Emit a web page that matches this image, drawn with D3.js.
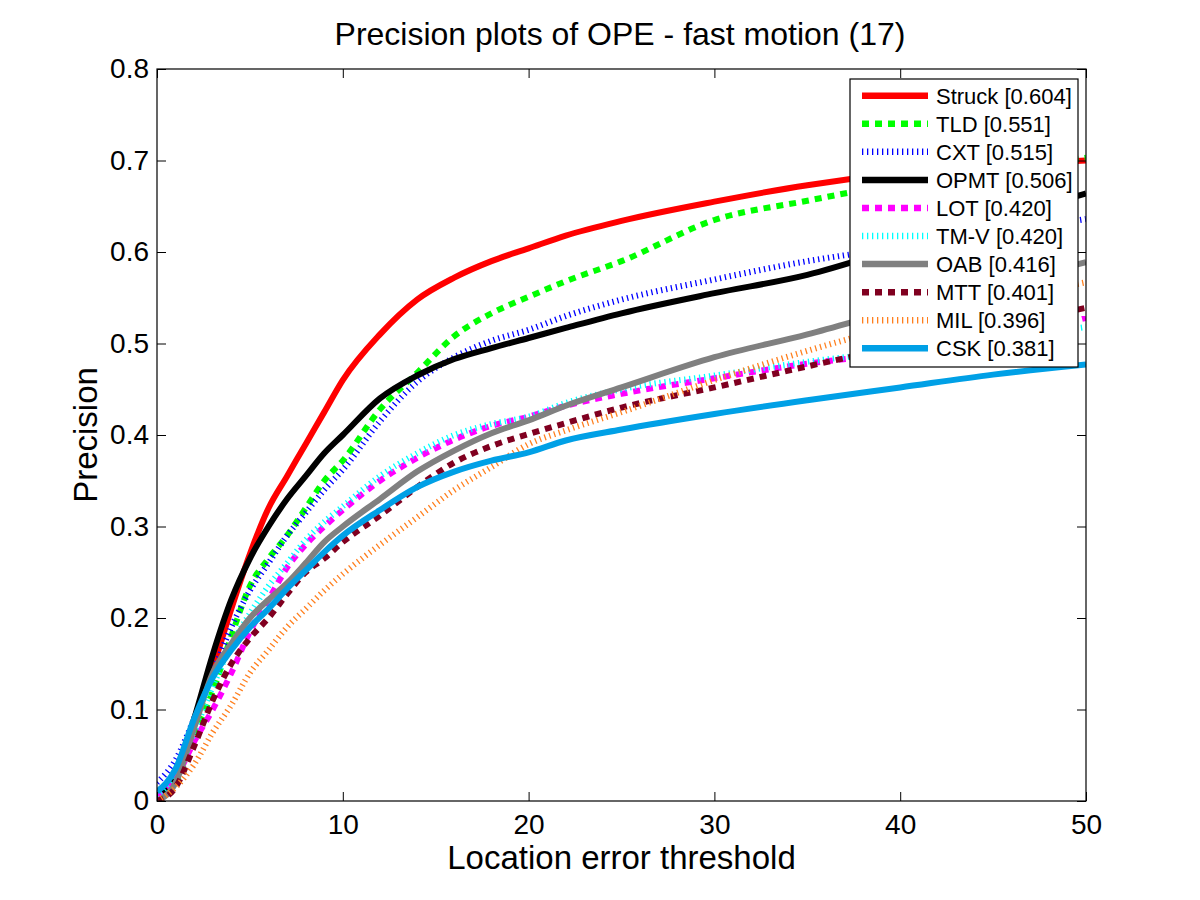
<!DOCTYPE html>
<html>
<head>
<meta charset="utf-8">
<script src="https://cdn.jsdelivr.net/npm/d3@7/dist/d3.min.js"></script>
<style>
  html, body { margin: 0; padding: 0; background: #fff; }
  svg { display: block; font-family: "Liberation Sans", Arial, sans-serif; }
</style>
</head>
<body>
<svg id="chart" width="1200" height="900"></svg>
<script>
// location error thresholds (pixels) at which the curves were read
const thresholds = [0, 1, 2, 3, 4, 5, 6, 7, 8, 9, 10, 12, 14, 16, 18, 20, 22, 25, 30, 35, 40, 45, 50];

const trackers = ['Struck', 'TLD', 'CXT', 'OPMT', 'LOT', 'TM-V', 'OAB', 'MTT', 'MIL', 'CSK'];
const scores = [0.604, 0.551, 0.515, 0.506, 0.420, 0.420, 0.416, 0.401, 0.396, 0.381];

const struck = [0.01, 0.03, 0.085, 0.145, 0.21, 0.27, 0.32, 0.355, 0.39, 0.425, 0.46, 0.51, 0.548, 0.572, 0.59, 0.604, 0.618, 0.634, 0.655, 0.673, 0.686, 0.694, 0.70];
const tld = [0.0, 0.02, 0.07, 0.12, 0.18, 0.235, 0.265, 0.29, 0.32, 0.35, 0.372, 0.428, 0.468, 0.508, 0.533, 0.551, 0.568, 0.59, 0.635, 0.656, 0.675, 0.69, 0.703];
const cxt = [0.02, 0.045, 0.09, 0.14, 0.19, 0.23, 0.26, 0.29, 0.315, 0.34, 0.362, 0.415, 0.458, 0.485, 0.503, 0.515, 0.53, 0.548, 0.57, 0.59, 0.605, 0.62, 0.636];
const opmt = [0.005, 0.03, 0.09, 0.16, 0.22, 0.265, 0.30, 0.33, 0.355, 0.38, 0.40, 0.44, 0.465, 0.483, 0.495, 0.506, 0.517, 0.533, 0.555, 0.575, 0.605, 0.635, 0.664];
const lot = [0.005, 0.025, 0.065, 0.10, 0.14, 0.185, 0.22, 0.255, 0.28, 0.30, 0.318, 0.35, 0.375, 0.395, 0.41, 0.42, 0.432, 0.445, 0.462, 0.478, 0.49, 0.505, 0.528];
const tmv = [0.005, 0.025, 0.075, 0.125, 0.17, 0.205, 0.235, 0.26, 0.285, 0.305, 0.322, 0.355, 0.38, 0.40, 0.412, 0.42, 0.435, 0.45, 0.465, 0.48, 0.492, 0.505, 0.518];
const oab = [0.0, 0.02, 0.08, 0.14, 0.172, 0.20, 0.22, 0.238, 0.26, 0.283, 0.30, 0.33, 0.36, 0.383, 0.402, 0.416, 0.432, 0.452, 0.485, 0.51, 0.538, 0.563, 0.589];
const mtt = [0.0, 0.015, 0.06, 0.11, 0.15, 0.178, 0.20, 0.226, 0.25, 0.265, 0.283, 0.312, 0.343, 0.37, 0.388, 0.401, 0.413, 0.43, 0.452, 0.475, 0.497, 0.518, 0.539];
const mil = [0.0, 0.015, 0.04, 0.075, 0.105, 0.14, 0.165, 0.19, 0.21, 0.23, 0.248, 0.28, 0.31, 0.34, 0.365, 0.39, 0.405, 0.425, 0.46, 0.492, 0.52, 0.545, 0.567];
const csk = [0.01, 0.035, 0.09, 0.135, 0.165, 0.19, 0.21, 0.232, 0.252, 0.272, 0.29, 0.318, 0.343, 0.36, 0.372, 0.381, 0.394, 0.406, 0.423, 0.438, 0.452, 0.466, 0.477];

const xTicks = [0, 10, 20, 30, 40, 50];
const yTicks = [0, 0.1, 0.2, 0.3, 0.4, 0.5, 0.6, 0.7, 0.8];

const seriesValues = [struck, tld, cxt, opmt, lot, tmv, oab, mtt, mil, csk];

// matlab-ish line styles: solid '-', dashed '--', dotted ':'
const styles = [
  { color: '#ff0000', dash: null },
  { color: '#00ff00', dash: '7,6' },
  { color: '#0000ff', dash: '1.3,3.7' },
  { color: '#000000', dash: null },
  { color: '#ff00ff', dash: '7,6' },
  { color: '#00ffff', dash: '1.3,3.7' },
  { color: '#808080', dash: null },
  { color: '#800020', dash: '7,6' },
  { color: '#ff8020', dash: '1.3,3.7' },
  { color: '#00a0e6', dash: null }
];

const svg = d3.select('#chart');
const margin = { left: 157, right: 114, top: 69, bottom: 99 };
const width = 1200 - margin.left - margin.right;
const height = 900 - margin.top - margin.bottom;

const x = d3.scaleLinear().domain([0, 50]).range([0, width]);
const y = d3.scaleLinear().domain([0, 0.8]).range([height, 0]);

const g = svg.append('g').attr('transform', `translate(${margin.left},${margin.top})`);

g.append('clipPath').attr('id', 'plotclip')
  .append('rect').attr('width', width).attr('height', height);

const line = d3.line()
  .x((d, i) => x(thresholds[i]))
  .y(d => y(d))
  .curve(d3.curveMonotoneX);

g.append('g').attr('clip-path', 'url(#plotclip)')
  .selectAll('path')
  .data(seriesValues)
  .enter().append('path')
    .attr('d', line)
    .attr('fill', 'none')
    .attr('stroke', (d, i) => styles[i].color)
    .attr('stroke-width', 6)
    .attr('stroke-dasharray', (d, i) => styles[i].dash)
    .attr('stroke-linecap', 'butt')
    .attr('stroke-linejoin', 'round');

const fmtY = d => d === 0 ? '0' : d3.format('.1f')(d);

function styleAxis(sel, labels) {
  sel.select('.domain').remove();
  sel.selectAll('.tick line').attr('stroke', '#000').attr('stroke-width', 1);
  sel.selectAll('.tick text')
    .attr('fill', '#000')
    .style('font-size', '28px')
    .style('font-family', '"Liberation Sans", Arial, sans-serif');
  if (!labels) sel.selectAll('.tick text').remove();
}

// ticks point inward on all four sides
g.append('g').attr('transform', `translate(0,${height})`)
  .call(d3.axisBottom(x).tickValues(xTicks).tickSize(-9).tickPadding(13).tickFormat(d3.format('d')))
  .call(s => styleAxis(s, true));
g.append('g')
  .call(d3.axisTop(x).tickValues(xTicks).tickSize(-9))
  .call(s => styleAxis(s, false));
g.append('g')
  .call(d3.axisLeft(y).tickValues(yTicks).tickSize(-9).tickPadding(8).tickFormat(fmtY))
  .call(s => styleAxis(s, true));
g.append('g').attr('transform', `translate(${width},0)`)
  .call(d3.axisRight(y).tickValues(yTicks).tickSize(-9))
  .call(s => styleAxis(s, false));

g.append('rect')
  .attr('width', width).attr('height', height)
  .attr('fill', 'none').attr('stroke', '#000').attr('stroke-width', 1.2);

// titles
svg.append('text')
  .attr('x', 620).attr('y', 45)
  .attr('text-anchor', 'middle')
  .style('font-size', '32px')
  .text('Precision plots of OPE - fast motion (17)');

svg.append('text')
  .attr('x', margin.left + width / 2).attr('y', 869)
  .attr('text-anchor', 'middle')
  .style('font-size', '33px')
  .text('Location error threshold');

svg.append('text')
  .attr('transform', `translate(97,${margin.top + height / 2}) rotate(-90)`)
  .attr('text-anchor', 'middle')
  .style('font-size', '33px')
  .text('Precision');

// legend
const legend = svg.append('g').attr('transform', 'translate(850,79)');
legend.append('rect')
  .attr('width', 228).attr('height', 288)
  .attr('fill', '#fff').attr('stroke', '#000').attr('stroke-width', 1.2);

const rows = legend.selectAll('g.row')
  .data(trackers)
  .enter().append('g')
    .attr('class', 'row')
    .attr('transform', (d, i) => `translate(0,${16.7 + i * 28.07})`);

rows.append('line')
  .attr('x1', 12).attr('x2', 78)
  .attr('stroke', (d, i) => styles[i].color)
  .attr('stroke-width', 6.5)
  .attr('stroke-dasharray', (d, i) => styles[i].dash);

rows.append('text')
  .attr('x', 86).attr('y', 8)
  .style('font-size', '22px')
  .text((d, i) => `${d} [${scores[i].toFixed(3)}]`);
</script>
</body>
</html>
